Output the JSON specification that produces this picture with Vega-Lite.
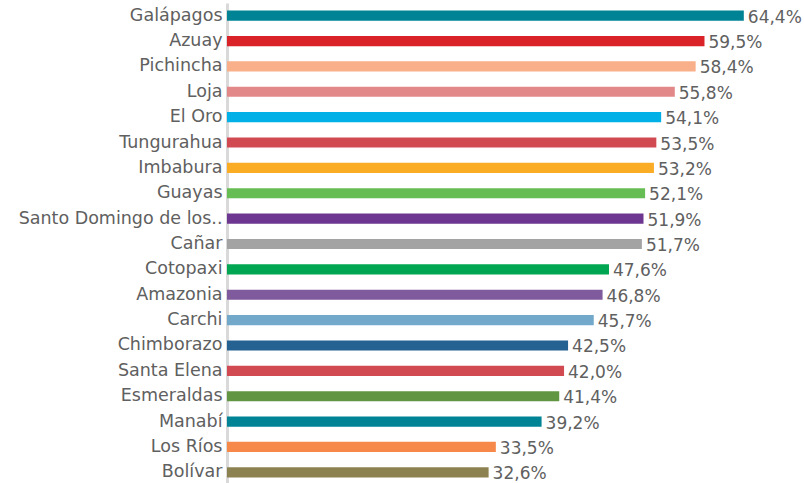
{
  "$schema": "https://vega.github.io/schema/vega-lite/v6.json",
  "width": 577,
  "height": 482,
  "autosize": "none",
  "padding": {"left": 227, "top": 3, "right": 0, "bottom": 0},
  "background": "white",
  "config": {
    "view": {"stroke": null},
    "locale": {"number": {"decimal": ",", "thousands": ".", "grouping": [3], "currency": ["", ""]}},
    "font": "DejaVu Sans"
  },
  "data": {
    "values": [
      {"provincia": "Galápagos", "valor": 0.644},
      {"provincia": "Azuay", "valor": 0.595},
      {"provincia": "Pichincha", "valor": 0.584},
      {"provincia": "Loja", "valor": 0.558},
      {"provincia": "El Oro", "valor": 0.541},
      {"provincia": "Tungurahua", "valor": 0.535},
      {"provincia": "Imbabura", "valor": 0.532},
      {"provincia": "Guayas", "valor": 0.521},
      {"provincia": "Santo Domingo de los..", "valor": 0.519},
      {"provincia": "Cañar", "valor": 0.517},
      {"provincia": "Cotopaxi", "valor": 0.476},
      {"provincia": "Amazonia", "valor": 0.468},
      {"provincia": "Carchi", "valor": 0.457},
      {"provincia": "Chimborazo", "valor": 0.425},
      {"provincia": "Santa Elena", "valor": 0.420},
      {"provincia": "Esmeraldas", "valor": 0.414},
      {"provincia": "Manabí", "valor": 0.392},
      {"provincia": "Los Ríos", "valor": 0.335},
      {"provincia": "Bolívar", "valor": 0.326}
    ]
  },
  "encoding": {
    "y": {
      "field": "provincia", "type": "nominal", "sort": null,
      "scale": {"paddingInner": 0.6, "paddingOuter": 0.3},
      "axis": {
        "title": null, "ticks": false, "domainColor": "#d9d9d9", "domainWidth": 3,
        "labelFontSize": 17.5, "labelColor": "#606060", "labelPadding": 5, "labelLimit": 260, "labelFont": "DejaVu Sans"
      }
    },
    "x": {
      "field": "valor", "type": "quantitative",
      "scale": {"domain": [0, 0.719], "nice": false},
      "axis": null
    }
  },
  "layer": [
    {
      "mark": {"type": "bar"},
      "encoding": {
        "color": {
          "field": "provincia", "type": "nominal", "legend": null,
          "scale": {
            "domain": ["Galápagos","Azuay","Pichincha","Loja","El Oro","Tungurahua","Imbabura","Guayas","Santo Domingo de los..","Cañar","Cotopaxi","Amazonia","Carchi","Chimborazo","Santa Elena","Esmeraldas","Manabí","Los Ríos","Bolívar"],
            "range": ["#008394","#DA2329","#F9AF8A","#E38888","#00B0E6","#D14A52","#FBAC25","#66BD53","#6D3690","#A3A3A3","#00A651","#7F5A9C","#72A8C9","#256191","#D14A52","#629542","#008394","#F6894A","#8C8150"]
          }
        }
      }
    },
    {
      "mark": {"type": "text", "align": "left", "baseline": "middle", "dx": 4, "dy": 2, "fontSize": 17, "color": "#606060", "font": "DejaVu Sans"},
      "encoding": {
        "text": {"field": "valor", "type": "quantitative", "format": ".1%"}
      }
    }
  ]
}
